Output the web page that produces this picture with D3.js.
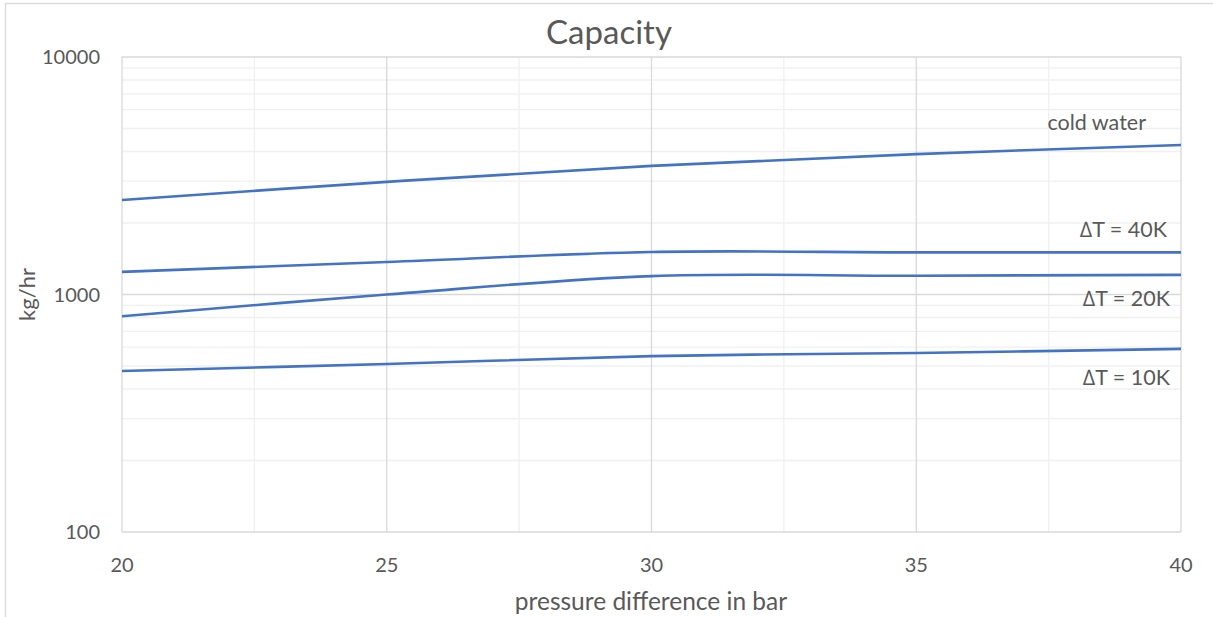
<!DOCTYPE html>
<html>
<head>
<meta charset="utf-8">
<script src="https://cdn.jsdelivr.net/npm/d3@7"></script>
<style>
  body { margin: 0; background: #fff; }
  svg text { font-family: Lato, "Open Sans", sans-serif; fill: #595959; }
</style>
</head>
<body>
<svg id="chart"></svg>
<script>
// data
const pressure = [20, 25, 30, 35, 40];
const coldWater = [2500, 2980, 3480, 3900, 4260];
const dT40 = [1245, 1370, 1510, 1505, 1505];
const dT20 = [810, 1000, 1195, 1200, 1210];
const dT10 = [476, 510, 550, 567, 590];
const seriesNames = ["cold water", "\u2206T = 40K", "\u2206T = 20K", "\u2206T = 10K"];
const xTicks = [20, 25, 30, 35, 40];
const yTicks = [100, 1000, 10000];

const width = 1213, height = 617;
const margin = {top: 57, right: 32, bottom: 85, left: 122};

const svg = d3.select("#chart")
    .attr("width", width)
    .attr("height", height);

// outer chart frame
svg.append("rect")
    .attr("x", 5.5).attr("y", 3.5)
    .attr("width", width + 20).attr("height", height + 20)
    .style("fill", "none")
    .style("stroke", "#d9d9d9")
    .style("stroke-width", 1.3);

const x = d3.scaleLinear()
    .domain([20, 40])
    .range([margin.left, width - margin.right]);

const y = d3.scaleLog()
    .domain([100, 10000])
    .range([height - margin.bottom, margin.top]);

const g = svg.append("g");

// minor grid
const minorY = [];
[100, 1000].forEach(d => { for (let k = 2; k <= 9; k++) minorY.push(d * k); });
g.selectAll(".minor-y").data(minorY).enter().append("line")
    .attr("x1", x(20)).attr("x2", x(40))
    .attr("y1", d => y(d)).attr("y2", d => y(d))
    .style("stroke", "#f0f0f0").style("stroke-width", 1.3);

g.selectAll(".minor-x").data([22.5, 27.5, 32.5, 37.5]).enter().append("line")
    .attr("x1", d => x(d)).attr("x2", d => x(d))
    .attr("y1", y(100)).attr("y2", y(10000))
    .style("stroke", "#f0f0f0").style("stroke-width", 1.3);

// major grid
g.selectAll(".major-y").data(yTicks).enter().append("line")
    .attr("x1", x(20)).attr("x2", x(40))
    .attr("y1", d => y(d)).attr("y2", d => y(d))
    .style("stroke", "#d9d9d9").style("stroke-width", 1.3);

g.selectAll(".major-x").data(xTicks).enter().append("line")
    .attr("x1", d => x(d)).attr("x2", d => x(d))
    .attr("y1", y(100)).attr("y2", y(10000))
    .style("stroke", "#d9d9d9").style("stroke-width", 1.3);

// tick labels
svg.selectAll(".xlab").data(xTicks).enter().append("text")
    .attr("x", d => x(d)).attr("y", y(100) + 40)
    .attr("text-anchor", "middle")
    .style("font-size", "20px")
    .text(d => d);

svg.selectAll(".ylab").data(yTicks).enter().append("text")
    .attr("x", 100).attr("y", d => y(d) + 7)
    .attr("text-anchor", "end")
    .style("font-size", "20px")
    .text(d => d);

// titles
svg.append("text")
    .attr("x", 609).attr("y", 44)
    .attr("text-anchor", "middle")
    .style("font-size", "33px")
    .text("Capacity");

svg.append("text")
    .attr("x", 651).attr("y", 610)
    .attr("text-anchor", "middle")
    .style("font-size", "24.5px")
    .text("pressure difference in bar");

svg.append("text")
    .attr("transform", `translate(35, ${y(1000)}) rotate(-90)`)
    .attr("text-anchor", "middle")
    .style("font-size", "22px")
    .text("kg/hr");

// lines
const series = [coldWater, dT40, dT20, dT10];
const line = d3.line()
    .x((d, i) => x(pressure[i]))
    .y(d => y(d))
    .curve(d3.curveCatmullRom.alpha(0.5));

g.selectAll(".series").data(series).enter().append("path")
    .attr("d", d => line(d))
    .style("fill", "none")
    .style("stroke", "#4472c4")
    .style("stroke-width", 2.6);

// line labels
const labelPos = [
    {x: 1146, v: 5270},
    {x: 1167, v: 1870},
    {x: 1170, v: 957},
    {x: 1170, v: 445}
];
svg.selectAll(".slab").data(seriesNames).enter().append("text")
    .attr("x", (d, i) => labelPos[i].x)
    .attr("y", (d, i) => y(labelPos[i].v) + 7)
    .attr("text-anchor", "end")
    .style("font-size", "21.5px")
    .text(d => d);
</script>
</body>
</html>
